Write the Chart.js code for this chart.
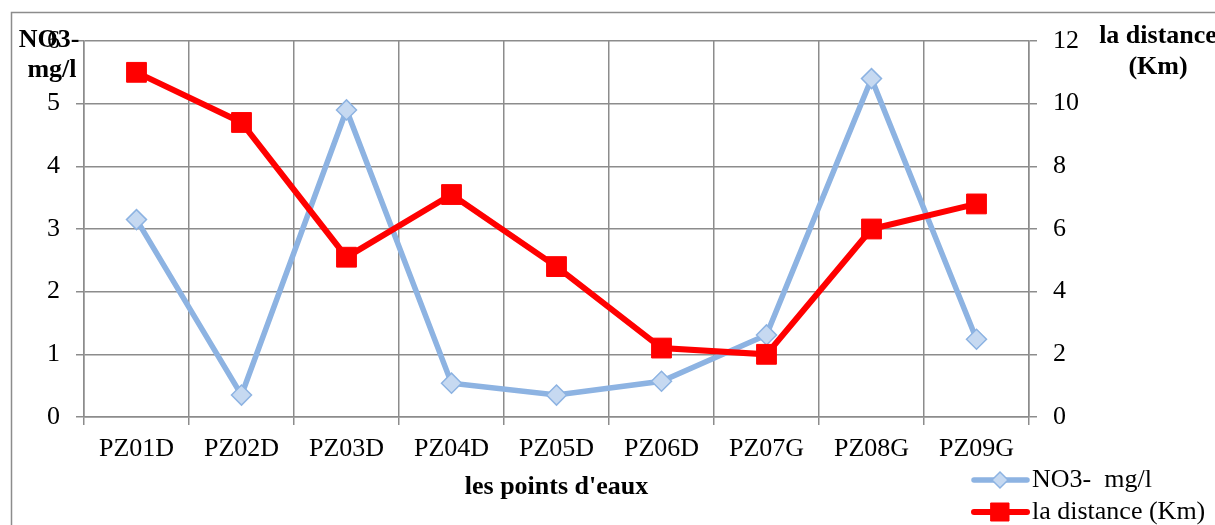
<!DOCTYPE html>
<html>
<head>
<meta charset="utf-8">
<script src="https://cdn.jsdelivr.net/npm/chart.js@4.4.1/dist/chart.umd.min.js"></script>
<style>
  html, body { margin: 0; padding: 0; background: #fff; }
  #wrap { width: 1215px; height: 525px; }
</style>
</head>
<body>
<div id="wrap"><canvas id="chart" width="1215" height="525"></canvas></div>
<script>
const categories = ['PZ01D', 'PZ02D', 'PZ03D', 'PZ04D', 'PZ05D', 'PZ06D', 'PZ07G', 'PZ08G', 'PZ09G'];
const no3Values = [3.15, 0.35, 4.9, 0.54, 0.35, 0.57, 1.31, 5.4, 1.24];
const distanceValues = [11.0, 9.4, 5.1, 7.1, 4.8, 2.2, 2.0, 6.0, 6.8];
const no3Label = 'NO3-  mg/l';
const distanceLabel = 'la distance (Km)';
const xTitle = "les points d'eaux";

const FONT = "'Liberation Serif', 'Times New Roman', serif";
const GRID = '#8c8c8c';
const BLUE = '#8db3e2';
const BLUE_FILL = '#c6d9f1';
const RED = '#ff0000';

// titles for the two vertical axes, the legend and the frame
const extras = {
  id: 'extras',
  afterDraw(chart) {
    const ctx = chart.ctx;
    ctx.save();

    // frame (left and top edges)
    ctx.strokeStyle = GRID;
    ctx.lineWidth = 1.5;
    ctx.beginPath();
    ctx.moveTo(11.5, 525);
    ctx.lineTo(11.5, 12.5);
    ctx.lineTo(1215, 12.5);
    ctx.stroke();

    ctx.fillStyle = '#000';
    ctx.textAlign = 'center';
    ctx.textBaseline = 'middle';
    ctx.font = 'bold 26px ' + FONT;
    ctx.fillText('NO3-', 49, 40);
    ctx.fillText('mg/l', 52, 70);
    ctx.fillText('la distance', 1158, 36);
    ctx.fillText('(Km)', 1158, 67);

    // legend
    const items = [
      { ds: chart.data.datasets[0], y: 480 },
      { ds: chart.data.datasets[1], y: 512 }
    ];
    items.forEach(({ ds, y }) => {
      ctx.strokeStyle = ds.borderColor;
      ctx.lineWidth = ds.borderWidth;
      ctx.lineCap = 'round';
      ctx.beginPath();
      ctx.moveTo(974, y);
      ctx.lineTo(1027, y);
      ctx.stroke();
      ctx.fillStyle = ds.pointBackgroundColor;
      ctx.strokeStyle = ds.pointBorderColor;
      ctx.lineWidth = ds.pointBorderWidth;
      ctx.beginPath();
      if (ds.pointStyle === 'rectRot') {
        const r = 8;
        ctx.moveTo(1000 - r, y);
        ctx.lineTo(1000, y - r);
        ctx.lineTo(1000 + r, y);
        ctx.lineTo(1000, y + r);
        ctx.closePath();
      } else {
        ctx.rect(1000 - 9, y - 9, 18, 18);
      }
      ctx.fill();
      ctx.stroke();
      ctx.fillStyle = '#000';
      ctx.textAlign = 'left';
      ctx.font = '26px ' + FONT;
      ctx.fillText(ds.label, 1032, y);
    });
    ctx.restore();
  }
};

new Chart(document.getElementById('chart'), {
  type: 'line',
  data: {
    labels: categories,
    datasets: [
      {
        label: no3Label,
        data: no3Values,
        yAxisID: 'y',
        order: 1,
        borderColor: BLUE,
        borderWidth: 5.5,
        tension: 0,
        pointStyle: 'rectRot',
        pointRadius: 10,
        pointHoverRadius: 10,
        pointBackgroundColor: BLUE_FILL,
        pointBorderColor: BLUE,
        pointBorderWidth: 1.5
      },
      {
        label: distanceLabel,
        data: distanceValues,
        yAxisID: 'y1',
        order: 0,
        borderColor: RED,
        borderWidth: 6,
        tension: 0,
        pointStyle: 'rect',
        pointRadius: 14,
        pointHoverRadius: 14,
        pointBackgroundColor: RED,
        pointBorderColor: RED,
        pointBorderWidth: 1
      }
    ]
  },
  options: {
    responsive: false,
    animation: false,
    devicePixelRatio: 1,
    layout: { padding: { top: 41, left: 0, right: 0, bottom: 0 } },
    plugins: {
      legend: { display: false },
      tooltip: { enabled: false }
    },
    scales: {
      x: {
        offset: true,
        grid: { color: GRID, lineWidth: 1.5, offset: true, tickLength: 8 },
        border: { color: GRID, width: 1.5 },
        ticks: { color: '#000', font: { family: FONT, size: 26 }, padding: 9, maxRotation: 0 },
        title: {
          display: true,
          text: xTitle,
          color: '#000',
          font: { family: FONT, size: 26, weight: 'bold' },
          padding: { top: 0, bottom: 22 }
        },
        afterFit(s) { s.height = 108; }
      },
      y: {
        position: 'left',
        min: 0,
        max: 6,
        grid: { color: GRID, lineWidth: 1.5, tickLength: 8 },
        border: { color: GRID, width: 1.5 },
        ticks: { stepSize: 1, color: '#000', font: { family: FONT, size: 26 }, padding: 16 },
        afterFit(s) { s.width = 84; }
      },
      y1: {
        position: 'right',
        min: 0,
        max: 12,
        grid: { drawOnChartArea: false, color: GRID, lineWidth: 1.5, tickLength: 8 },
        border: { color: GRID, width: 1.5 },
        ticks: { stepSize: 2, color: '#000', font: { family: FONT, size: 26 }, padding: 16 },
        afterFit(s) { s.width = 186; }
      }
    }
  },
  plugins: [extras]
});
</script>
</body>
</html>
